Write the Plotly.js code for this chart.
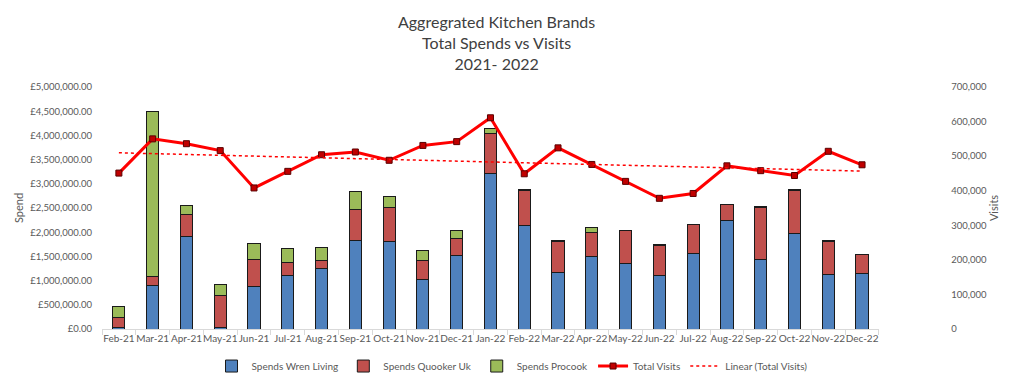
<!DOCTYPE html>
<html>
<head>
<meta charset="utf-8">
<script src="https://cdn.plot.ly/plotly-3.0.1.min.js"></script>
<style>html,body{margin:0;padding:0;background:#fff;}#chart{width:1024px;height:378px;}</style>
</head>
<body>
<div id="chart"></div>
<script>
const months = ["Feb-21","Mar-21","Apr-21","May-21","Jun-21","Jul-21","Aug-21","Sep-21","Oct-21","Nov-21","Dec-21",
  "Jan-22","Feb-22","Mar-22","Apr-22","May-22","Jun-22","Jul-22","Aug-22","Sep-22","Oct-22","Nov-22","Dec-22"];
const spendsWren = [40000, 893000, 1911000, 40000, 872000, 1099000, 1244000, 1822000, 1800000, 1017000, 1519000,
  3207000, 2132000, 1167000, 1504000, 1347000, 1099000, 1566000, 2236000, 1430000, 1967000, 1120000, 1153000];
const spendsQuooker = [205000, 192000, 449000, 646000, 558000, 269000, 171000, 653000, 704000, 392000, 351000,
  826000, 730000, 647000, 483000, 682000, 626000, 587000, 336000, 1080000, 895000, 688000, 386000];
const spendsProcook = [221000, 3415000, 185000, 233000, 330000, 289000, 275000, 372000, 240000, 213000, 159000,
  103000, 15000, 12000, 110000, 5000, 12000, 8000, 5000, 15000, 15000, 12000, 10000];
const totalVisits = [451000, 550000, 536000, 516000, 408000, 456000, 504000, 512000, 488000, 531000, 542000,
  611000, 449000, 524000, 476000, 427000, 378000, 392000, 472000, 458000, 444000, 514000, 475000];

// Linear trendline (least squares) of Total Visits, as the original chart's "Linear (Total Visits)"
const n = totalVisits.length;
let sx = 0, sy = 0, sxy = 0, sxx = 0;
for (let i = 0; i < n; i++) { sx += i; sy += totalVisits[i]; sxy += i * totalVisits[i]; sxx += i * i; }
const slope = (n * sxy - sx * sy) / (n * sxx - sx * sx);
const intercept = (sy - slope * sx) / n;
const trend = totalVisits.map((_, i) => intercept + slope * i);

const FAM = "Lato, 'Open Sans', sans-serif";
const font = {family: FAM, size: 10, color: "#595959"};
const yfont = {family: FAM, size: 9.5, color: "#595959"};
const barLine = {color: "#1a1a1a", width: 1};

const traces = [
  {type: "bar", name: "Spends Wren Living", x: months, y: spendsWren, marker: {color: "#4F81BD", line: barLine}},
  {type: "bar", name: "Spends Quooker Uk", x: months, y: spendsQuooker, marker: {color: "#C0504D", line: barLine}},
  {type: "bar", name: "Spends Procook", x: months, y: spendsProcook, marker: {color: "#9BBB59", line: barLine}},
  {type: "scatter", mode: "lines+markers", name: "Total Visits", x: months, y: totalVisits, yaxis: "y2",
    line: {color: "#FF0000", width: 3},
    marker: {symbol: "square", size: 6, color: "#C00000", line: {color: "#5a0000", width: 1}}},
  {type: "scatter", mode: "lines", name: "Linear (Total Visits)", x: months, y: trend, yaxis: "y2",
    line: {color: "#FF0000", width: 1.5, dash: "dot"}}
];

const layout = {
  width: 1024, height: 378,
  margin: {l: 102, r: 30, t: 87, b: 49, autoexpand: false},
  paper_bgcolor: "#fff", plot_bgcolor: "#fff",
  font: font,
  barmode: "stack",
  bargap: 0.64,
  showlegend: true,
  title: {
    text: "Aggregrated Kitchen Brands<br>Total Spends vs Visits<br>2021- 2022",
    font: {family: FAM, size: 16, color: "#404040"},
    x: 0.485, xref: "container", xanchor: "center",
    y: 0.925, yref: "container", yanchor: "top"
  },
  xaxis: {
    type: "category", domain: [0, 0.871], automargin: false,
    range: [-0.5, months.length - 0.5], autorange: false,
    showgrid: false, showline: true, linecolor: "#d9d9d9", linewidth: 1,
    ticks: "outside", tickson: "boundaries", ticklen: 5, tickcolor: "#d9d9d9",
    tickfont: font, tickangle: 0, fixedrange: true
  },
  yaxis: {
    range: [0, 5000000], dtick: 500000, tickprefix: "£", tickformat: ",.2f",
    showgrid: false, showline: false, zeroline: false, ticks: "", automargin: false,
    tickfont: yfont, ticklabelstandoff: 9,
    title: {text: "Spend", font: {family: FAM, size: 11, color: "#595959"}, standoff: 4}
  },
  yaxis2: {
    overlaying: "y", side: "right", anchor: "free", position: 0.951, automargin: false,
    range: [0, 700000], dtick: 100000, tickformat: ",d",
    showgrid: false, showline: false, zeroline: false, ticks: "",
    tickfont: yfont,
    title: {text: "Visits", font: {family: FAM, size: 11, color: "#595959"}, standoff: 4}
  },
  legend: {
    orientation: "h", xref: "container", yref: "container",
    x: 0.5, xanchor: "center", y: 0.07, yanchor: "top",
    font: {family: FAM, size: 10, color: "#595959"},
    traceorder: "normal"
  }
};

Plotly.newPlot("chart", traces, layout, {displayModeBar: false, staticPlot: true});
</script>
</body>
</html>
